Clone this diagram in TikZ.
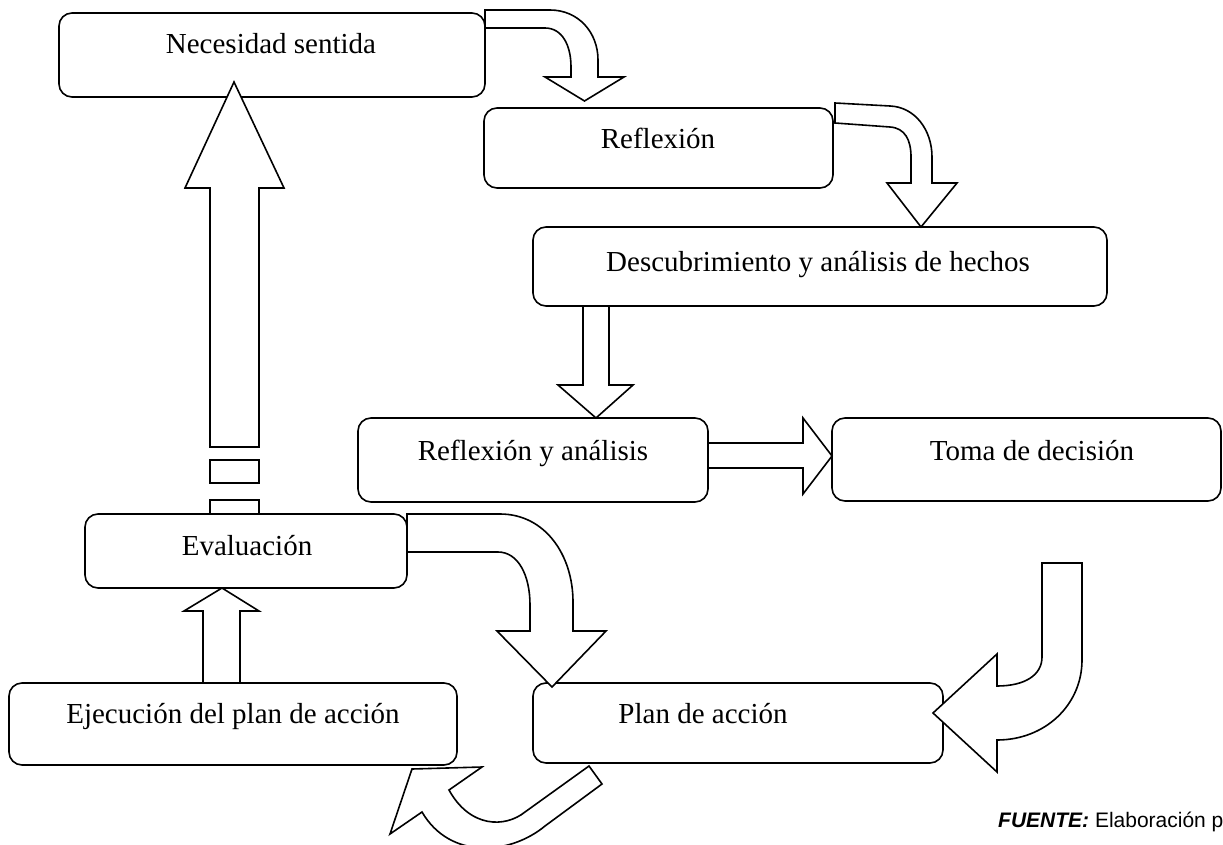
\documentclass[tikz,border=0pt]{standalone}
\usepackage{fontspec}
\setmainfont{Liberation Serif}
\newfontfamily\arialf{Liberation Sans}
\begin{document}
\begin{tikzpicture}[x=1pt,y=-1pt,
  box/.style={draw, line width=1.6pt, rounded corners=13pt, inner sep=0pt},
  txt/.style={font=\fontsize{29}{34}\selectfont, anchor=base, inner sep=0pt},
  barrow/.style={draw, fill=white, line width=1.6pt, line join=miter}]
\useasboundingbox (0,0) rectangle (1223,845);
\clip (0,0) rectangle (1223,845);
% boxes
\node[box, minimum width=426pt, minimum height=84pt] (nec) at (272,55) {};
\node[box, minimum width=349pt, minimum height=80pt] (refl) at (658.5,148) {};
\node[box, minimum width=574pt, minimum height=79pt] (desc) at (820,266.5) {};
\node[box, minimum width=350pt, minimum height=84pt] (rya) at (533,460) {};
\node[box, minimum width=389pt, minimum height=83pt] (toma) at (1026.5,459.5) {};
\node[box, minimum width=322pt, minimum height=74pt] (eval) at (246,551) {};
\node[box, minimum width=448pt, minimum height=82pt] (ejec) at (233,724) {};
\node[box, minimum width=410pt, minimum height=80pt] (plan) at (738,723) {};
% texts
\node[txt] (necT) at (271,54) {Necesidad sentida};
\node[txt] (reflT) at (658,149) {Reflexión};
\node[txt] (descT) at (818,271) {Descubrimiento y análisis de hechos};
\node[txt] (ryaT) at (533,460) {Reflexión y análisis};
\node[txt] (tomaT) at (1032,460) {Toma de decisión};
\node[txt] (evalT) at (247,555) {Evaluación};
\node[txt] (ejecT) at (233,723) {Ejecución del plan de acción};
\node[txt] (planT) at (703,723) {Plan de acción};
% block arrows
% evaluation -> necesidad (long up arrow with broken tail)
\draw[barrow] (210,447) -- (210,188) -- (185,188) -- (234,82) -- (284,188) -- (259,188) -- (259,447) -- cycle;
\draw[barrow] (210,460) rectangle (259,483);
\draw[barrow] (210,500) rectangle (259,514);
% ejecucion -> evaluacion
\draw[barrow] (203,683) -- (203,611) -- (184,611) -- (222,588) -- (259,611) -- (240,611) -- (240,683) -- cycle;
% descubrimiento -> reflexion y analisis
\draw[barrow] (583,306) -- (583,385) -- (558,385) -- (596,418) -- (633,385) -- (609,385) -- (609,306) -- cycle;
% reflexion y analisis -> toma de decision
\draw[barrow] (708,443) -- (803,443) -- (803,418) -- (832,456) -- (803,494) -- (803,468) -- (708,468) -- cycle;
% necesidad -> reflexion (curved)
\draw[barrow] (485,10) -- (550,10) .. controls (578,10) and (598,32) .. (598,60) -- (598,77) -- (624,77) -- (584.5,101) -- (545,77) -- (571,77) -- (571,67) .. controls (571,45) and (562,28) .. (545,28) -- (485,28) -- cycle;
% reflexion -> descubrimiento (curved)
\draw[barrow] (835,103) -- (890,106) .. controls (915,107) and (932,130) .. (932,157) -- (932,183) -- (957,183) -- (921,227) -- (887,183) -- (911,183) -- (911,157) .. controls (911,140) and (905,128) .. (890,127) -- (835,123) -- cycle;
% evaluacion -> plan de accion (curved)
\draw[barrow] (407,514) -- (500,514) .. controls (545,514) and (573,555) .. (573,602) -- (573,631) -- (606,631) -- (552,687) -- (497,631) -- (530,631) -- (530,605) .. controls (530,575) and (518,552) .. (498,552) -- (407,552) -- cycle;
% curved arrow from the right into plan de accion
\draw[barrow] (1042,563) -- (1082,563) -- (1082,660) .. controls (1082,705) and (1045,740) .. (997,740) -- (997,772) -- (933,713) -- (997,654) -- (997,686) .. controls (1025,686) and (1042,675) .. (1042,657) -- cycle;
% plan de accion -> ejecucion (curved, bottom)
\draw[barrow] (589,766) -- (525,812) .. controls (505,828) and (470,828) .. (449,790) -- (482,767) -- (412,769) -- (390,834) -- (422,812) .. controls (450,860) and (510,855) .. (545,826) -- (602,784) -- cycle;
% source
\node[anchor=base west, inner sep=0pt, font=\arialf\fontsize{21}{24}\selectfont] (src) at (998,827) {\textbf{\textit{FUENTE:}} Elaboración p};
\end{tikzpicture}
\end{document}
